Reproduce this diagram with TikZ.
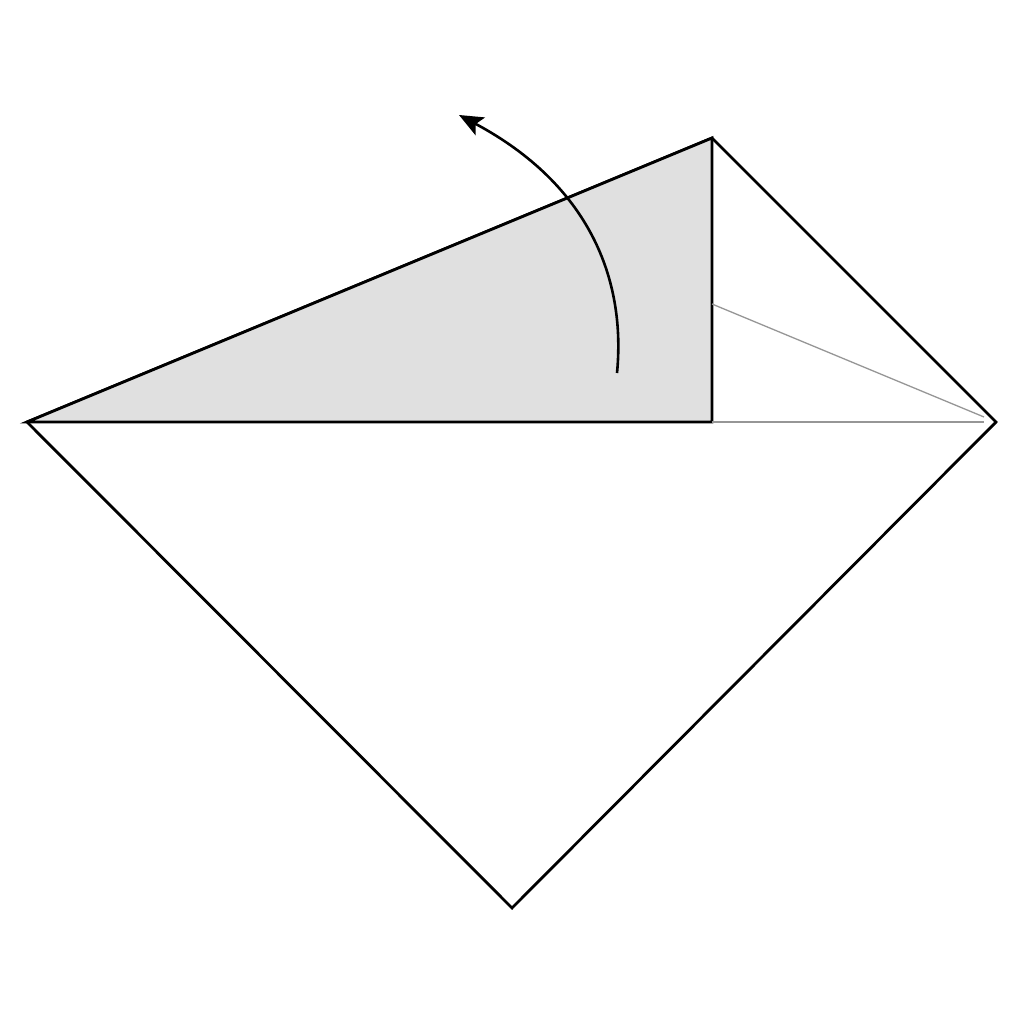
\documentclass[tikz,border=0pt]{standalone}
\usetikzlibrary{arrows.meta}
\definecolor{flap}{RGB}{224,224,224}
\definecolor{crease}{RGB}{150,150,150}
\begin{document}
\begin{tikzpicture}[x=1pt,y=-1pt,
  edge/.style={line width=2.8pt,line join=miter,black},
  creaseline/.style={line width=1.3pt,crease},
  foldarrow/.style={line width=2.6pt,-{Stealth[length=24pt,width=20pt,inset=5pt]}}]
\useasboundingbox (0,0) rectangle (1024,1024);
\coordinate (L) at (27,422);
\coordinate (T) at (712,138);
\coordinate (R) at (996,422);
\coordinate (B) at (512,908);
\coordinate (M) at (712,422);
\coordinate (C) at (712,304);
\coordinate (Re) at (984,422);
\coordinate (Ru) at (984,417);
\coordinate (A0) at (617,373);
\coordinate (A1) at (459,115);
% square outline
\draw[edge] (L) -- (T) -- (R) -- (B) -- cycle;
% grey flap
\fill[flap] (L) -- (T) -- (M) -- cycle;
\draw[edge] (L) -- (T) -- (M) -- cycle;
% crease lines
\draw[creaseline] (M) -- (Re);
\draw[creaseline] (C) -- (Ru);
% fold arrow
\draw[foldarrow] (A0) .. controls (626,280) and (590,185) .. (A1);
\end{tikzpicture}
\end{document}
